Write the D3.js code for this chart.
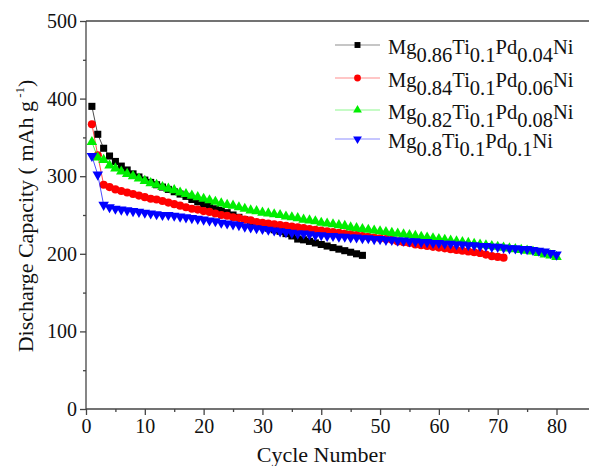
<!DOCTYPE html>
<html>
<head>
<meta charset="utf-8">
<script src="https://cdn.jsdelivr.net/npm/d3@7/dist/d3.min.js"></script>
<style>
  html, body { margin: 0; padding: 0; background: #fff; }
  svg { display: block; font-family: "Liberation Serif", "Times New Roman", serif; }
</style>
</head>
<body>
<svg id="chart" width="589" height="466"></svg>
<script>
// Discharge capacity (mAh/g) versus cycle number for four Mg-Ti-Pd-Ni alloys
const xTicks = [0, 10, 20, 30, 40, 50, 60, 70, 80];
const yTicks = [0, 100, 200, 300, 400, 500];

const cyclesPd004 = d3.range(1, 48);
const capPd004 = [390, 354, 336, 326, 319, 313, 308, 303, 299, 295,
  292, 289, 286, 283, 280, 277, 274, 270, 267, 264,
  261, 258, 256, 253, 250, 247, 244, 241, 238, 236,
  233, 231, 229, 226, 223, 219, 218, 216, 214, 212,
  210, 208, 206, 204, 202, 200, 198];

const cyclesPd006 = d3.range(1, 72);
const capPd006 = [367, 327, 289, 286, 283, 281, 279, 277, 275, 273,
  271, 270, 268, 266, 264, 262, 260, 258, 257, 255,
  254, 252, 250, 249, 247, 246, 244, 243, 241, 240,
  239, 238, 237, 236, 235, 234, 233, 232, 231, 230,
  229, 228, 227, 226, 225, 224, 223, 222, 221, 220,
  219, 218, 216, 215, 214, 212, 211, 210, 209, 208,
  207, 206, 205, 204, 203, 202, 201, 199, 197, 196,
  195];

const cyclesPd008 = d3.range(1, 81);
const capPd008 = [344, 324, 321, 314, 310, 306, 303, 300, 297, 294,
  291, 289, 286, 284, 282, 279, 277, 275, 273, 271,
  269, 267, 265, 263, 262, 260, 258, 256, 255, 253,
  252, 251, 250, 248, 247, 246, 244, 243, 242, 240,
  239, 238, 237, 236, 234, 233, 232, 231, 230, 229,
  228, 227, 226, 225, 224, 223, 222, 221, 220, 219,
  218, 217, 216, 215, 214, 213, 212, 211, 210, 209,
  208, 207, 206, 205, 204, 203, 201, 199, 198, 196];

const cyclesPd01 = d3.range(1, 81);
const capPd01 = [326, 302, 263, 260, 258, 257, 256, 255, 254, 253,
  252, 251, 250, 250, 249, 248, 247, 246, 245, 244,
  243, 242, 240, 239, 238, 237, 235, 234, 233, 232,
  231, 230, 229, 228, 227, 226, 226, 225, 224, 224,
  223, 223, 222, 222, 221, 221, 220, 220, 219, 219,
  218, 218, 217, 217, 216, 216, 215, 215, 214, 214,
  213, 213, 212, 212, 211, 211, 210, 210, 209, 209,
  208, 207, 207, 206, 206, 205, 204, 203, 201, 199];

// Legend labels: [text, isSubscript] pieces
const labelPd004 = [["Mg", 0], ["0.86", 1], ["Ti", 0], ["0.1", 1], ["Pd", 0], ["0.04", 1], ["Ni", 0]];
const labelPd006 = [["Mg", 0], ["0.84", 1], ["Ti", 0], ["0.1", 1], ["Pd", 0], ["0.06", 1], ["Ni", 0]];
const labelPd008 = [["Mg", 0], ["0.82", 1], ["Ti", 0], ["0.1", 1], ["Pd", 0], ["0.08", 1], ["Ni", 0]];
const labelPd01  = [["Mg", 0], ["0.8", 1], ["Ti", 0], ["0.1", 1], ["Pd", 0], ["0.1", 1], ["Ni", 0]];

const series = [
  { x: cyclesPd004, y: capPd004, color: "#000000", symbol: d3.symbolSquare, size: 50, rot: 0, label: labelPd004 },
  { x: cyclesPd006, y: capPd006, color: "#ff0000", symbol: d3.symbolCircle, size: 52, rot: 0, label: labelPd006 },
  { x: cyclesPd008, y: capPd008, color: "#00ee00", symbol: d3.symbolTriangle, size: 48, rot: 0, label: labelPd008 },
  { x: cyclesPd01,  y: capPd01,  color: "#0000ff", symbol: d3.symbolTriangle, size: 48, rot: 180, label: labelPd01 }
];

const svg = d3.select("#chart");
const W = 589, H = 466;
const margin = { left: 86, top: 21, bottom: 57 };

const x = d3.scaleLinear().domain([0, 80]).range([margin.left, 556.5]);
const y = d3.scaleLinear().domain([0, 500]).range([H - margin.bottom, margin.top]);

const axisColor = "#444";

// frame: top border and the x-axis line run off the right edge
svg.append("line")
  .attr("x1", x(0)).attr("x2", W).attr("y1", y(500)).attr("y2", y(500))
  .attr("stroke", axisColor).attr("stroke-width", 1.3);

// x axis
const gx = svg.append("g").attr("transform", `translate(0,${y(0)})`);
gx.append("line").attr("x1", x(0)).attr("x2", W).attr("y1", 0).attr("y2", 0)
  .attr("stroke", axisColor).attr("stroke-width", 1.3);
gx.call(d3.axisBottom(x).tickValues(d3.range(5, 80, 10)).tickSize(3).tickFormat(""))
  .call(g => g.select(".domain").remove());
gx.append("g").call(d3.axisBottom(x).tickValues(xTicks).tickSize(6).tickPadding(4).tickFormat(d3.format("d")))
  .call(g => g.select(".domain").remove());
gx.selectAll("line").attr("stroke", axisColor).attr("stroke-width", 1.3);
gx.selectAll("text").attr("font-family", "Liberation Serif").attr("font-size", 20).attr("fill", "#111");

// y axis
const gy = svg.append("g").attr("transform", `translate(${x(0)},0)`);
gy.append("line").attr("x1", 0).attr("x2", 0).attr("y1", y(0)).attr("y2", y(500))
  .attr("stroke", axisColor).attr("stroke-width", 1.3);
gy.call(d3.axisLeft(y).tickValues(d3.range(50, 500, 100)).tickSize(3).tickFormat(""))
  .call(g => g.select(".domain").remove());
gy.append("g").call(d3.axisLeft(y).tickValues(yTicks).tickSize(6).tickPadding(3).tickFormat(d3.format("d")))
  .call(g => g.select(".domain").remove());
gy.selectAll("line").attr("stroke", axisColor).attr("stroke-width", 1.3);
gy.selectAll("text").attr("font-family", "Liberation Serif").attr("font-size", 20).attr("fill", "#111");

// axis titles
svg.append("text")
  .attr("x", (x(0) + x(80)) / 2).attr("y", 462)
  .attr("text-anchor", "middle").attr("font-size", 22).attr("fill", "#111")
  .text("Cycle Number");

const yTitle = svg.append("text")
  .attr("transform", `translate(33,${(y(0) + y(500)) / 2 + 1}) rotate(-90)`)
  .attr("text-anchor", "middle").attr("font-size", 22).attr("fill", "#111");
yTitle.append("tspan").text("Discharge Capacity ( mAh g");
yTitle.append("tspan").attr("font-size", 13).attr("dy", -9).text(" -1");
yTitle.append("tspan").attr("dy", 9).text(")");

// data: connecting lines then markers
const line = d3.line().x(d => x(d[0])).y(d => y(d[1]));
series.forEach(s => {
  const pts = s.x.map((c, i) => [c, s.y[i]]);
  const g = svg.append("g");
  g.append("path").datum(pts).attr("d", line)
    .attr("fill", "none").attr("stroke", s.color).attr("stroke-width", 1).attr("stroke-opacity", 0.7);
  g.selectAll("path.pt").data(pts).join("path").attr("class", "pt")
    .attr("d", d3.symbol().type(s.symbol).size(s.size))
    .attr("transform", d => `translate(${x(d[0])},${y(d[1])}) rotate(${s.rot})`)
    .attr("fill", s.color);
});

// legend
const legendBase = [54, 87, 119, 148];
series.forEach((s, i) => {
  const by = legendBase[i];
  const cy = by - 9;
  const lg = svg.append("g");
  lg.append("line").attr("x1", 335).attr("x2", 380).attr("y1", cy).attr("y2", cy)
    .attr("stroke", s.color).attr("stroke-width", 1).attr("stroke-opacity", 0.45);
  lg.append("path")
    .attr("d", d3.symbol().type(s.symbol).size(s.size * 0.7))
    .attr("transform", `translate(357.5,${cy}) rotate(${s.rot})`)
    .attr("fill", s.color);
  const t = lg.append("text").attr("x", 388).attr("y", by).attr("font-size", 20.5).attr("fill", "#111");
  let shift = 0;
  s.label.forEach(([txt, sub]) => {
    const target = sub ? 8 : 0;
    t.append("tspan").attr("dy", target - shift).text(txt);
    shift = target;
  });
});
</script>
</body>
</html>
